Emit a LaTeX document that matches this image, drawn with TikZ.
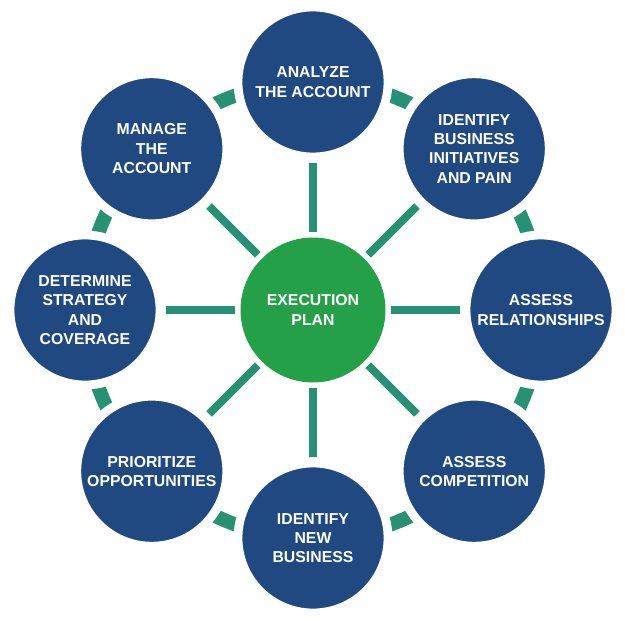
\documentclass[tikz,border=0pt]{standalone}
\usepackage{fontspec}
\setmainfont{Liberation Sans}
\definecolor{planblue}{RGB}{31,73,128}
\definecolor{plangreen}{RGB}{36,160,72}
\definecolor{planteal}{RGB}{38,145,115}
\tikzset{
  stage/.style={circle,fill=planblue,draw=white,line width=5pt,minimum size=3.0cm,
    text=white,font=\bfseries\fontsize{9}{11}\selectfont,align=center,inner sep=0pt},
  hub/.style={circle,fill=plangreen,minimum size=2.9cm,text=white,
    font=\bfseries\fontsize{9}{11}\selectfont,align=center},
  spoke/.style={planteal,line width=4.5pt},
  ring/.style={planteal,line width=8pt}
}
\begin{document}
\begin{tikzpicture}[x=0.02cm,y=0.02cm]
  \useasboundingbox (-313,-315) rectangle (312,310);
  % Ring behind the stages
  \draw[ring] (0,0) circle (228);
  % Center
  \node[hub] (C) at (0,0) {EXECUTION\\PLAN};
  % Stages, clockwise from the top
  \foreach \ang/\name/\txt in {90/S1/{ANALYZE\\THE ACCOUNT},
      45/S2/{IDENTIFY\\BUSINESS\\INITIATIVES\\AND PAIN},
      0/S3/{ASSESS\\RELATIONSHIPS},
      -45/S4/{ASSESS\\COMPETITION},
      -90/S5/{IDENTIFY\\NEW\\BUSINESS},
      -135/S6/{PRIORITIZE\\OPPORTUNITIES},
      180/S7/{DETERMINE\\STRATEGY\\AND\\COVERAGE},
      135/S8/{MANAGE\\THE\\ACCOUNT}}
    \node[stage] (\name) at (\ang:228) {\txt};
  % Spokes
  \foreach \ang in {90,45,0,-45,-90,-135,180,135}
    \draw[spoke] (\ang:78) -- (\ang:147);
\end{tikzpicture}
\end{document}
